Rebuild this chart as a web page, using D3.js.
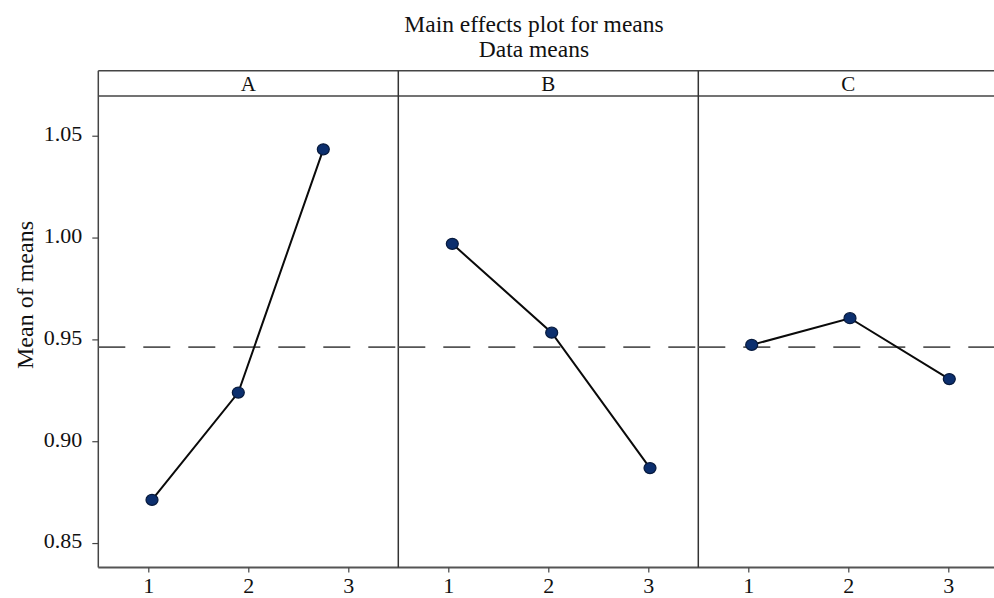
<!DOCTYPE html>
<html>
<head>
<meta charset="utf-8">
<script src="https://cdn.jsdelivr.net/npm/d3@7"></script>
<style>
  html, body { margin: 0; padding: 0; background: #fff; }
  svg { display: block; }
  text { font-family: "Liberation Serif", "Times New Roman", serif; fill: #111; }
</style>
</head>
<body>
<svg id="chart" width="994" height="598"></svg>
<script>
// ---- data ----
const titleText = "Main effects plot for means";
const subtitleText = "Data means";
const yLabelText = "Mean of means";
const factors = ["A", "B", "C"];
const levels = [1, 2, 3];
const levelLabels = ["1", "2", "3"];
const meansA = [0.8712, 0.9239, 1.0433];
const meansB = [0.9969, 0.9533, 0.8868];
const meansC = [0.9473, 0.9604, 0.9305];
// horizontal positions of the plotted level points as they appear in the picture
const posA = [1.037, 1.90, 2.75];
const posB = [1.040, 2.034, 3.017];
const posC = [1.034, 2.017, 3.010];
const grandMean = 0.9462;
const yTicks = [0.85, 0.90, 0.95, 1.00, 1.05];

const seriesMeans = [meansA, meansB, meansC];
const seriesPos = [posA, posB, posC];

// ---- layout ----
const svg = d3.select("#chart");
const plotLeft = 98.3, panelW = 300, plotTop = 96, headerTop = 70.7, plotBottom = 567.5;
const plotRight = plotLeft + panelW * factors.length;

const y = d3.scaleLinear().domain([0.838, 1.0695]).range([plotBottom, plotTop]);

// titles
svg.append("text").attr("x", 534).attr("y", 31.5).attr("text-anchor", "middle")
  .style("font-size", "23.5px").text(titleText);
svg.append("text").attr("x", 534).attr("y", 57).attr("text-anchor", "middle")
  .style("font-size", "23.5px").text(subtitleText);

// y label
svg.append("text")
  .attr("transform", `translate(33,295) rotate(-90)`)
  .attr("text-anchor", "middle")
  .style("font-size", "24px")
  .text(yLabelText);

// y axis
const yAxis = svg.append("g").attr("transform", `translate(${plotLeft},0)`)
  .call(d3.axisLeft(y).tickValues(yTicks).tickFormat(d3.format(".2f")).tickSize(6).tickPadding(10).tickSizeOuter(0));
yAxis.select(".domain").remove();
yAxis.selectAll(".tick line").attr("stroke", "#444").attr("stroke-width", 1.2);
yAxis.selectAll(".tick text").style("font-size", "22px").style("font-family", "'Liberation Serif', 'Times New Roman', serif").attr("fill", "#111").attr("dy", "0.22em");

// header strip
svg.append("line").attr("x1", plotLeft).attr("x2", plotRight).attr("y1", headerTop).attr("y2", headerTop)
  .attr("stroke", "#444").attr("stroke-width", 1.5);
svg.append("line").attr("x1", plotLeft).attr("x2", plotRight).attr("y1", plotTop).attr("y2", plotTop)
  .attr("stroke", "#444").attr("stroke-width", 1.5);
// left border
svg.append("line").attr("x1", plotLeft).attr("x2", plotLeft).attr("y1", headerTop).attr("y2", plotBottom)
  .attr("stroke", "#444").attr("stroke-width", 1.5);
// bottom axis line
svg.append("line").attr("x1", plotLeft).attr("x2", plotRight).attr("y1", plotBottom).attr("y2", plotBottom)
  .attr("stroke", "#555").attr("stroke-width", 1.8);

factors.forEach((f, i) => {
  const x0 = plotLeft + i * panelW;
  const x = d3.scaleLinear().domain([0.5, 3.5]).range([x0, x0 + panelW]);
  const g = svg.append("g");

  // divider
  if (i > 0) {
    g.append("line").attr("x1", x0).attr("x2", x0).attr("y1", headerTop).attr("y2", plotBottom)
      .attr("stroke", "#333").attr("stroke-width", 1.5);
  }
  // header label
  g.append("text").attr("x", x0 + panelW / 2).attr("y", 91).attr("text-anchor", "middle")
    .style("font-size", "21px").text(f);

  // reference line (grand mean)
  g.append("line").attr("x1", x0).attr("x2", x0 + panelW)
    .attr("y1", y(grandMean)).attr("y2", y(grandMean))
    .attr("stroke", "#555").attr("stroke-width", 1.8).attr("stroke-dasharray", "27,18");

  // x axis
  const xa = g.append("g").attr("transform", `translate(0,${plotBottom})`)
    .call(d3.axisBottom(x).tickValues(levels).tickFormat((d, k) => levelLabels[k]).tickSize(5).tickPadding(5).tickSizeOuter(0));
  xa.select(".domain").remove();
  xa.selectAll(".tick line").attr("stroke", "#444").attr("stroke-width", 1.2);
  xa.selectAll(".tick text").style("font-size", "22px").style("font-family", "'Liberation Serif', 'Times New Roman', serif").attr("fill", "#111");

  const pts = seriesMeans[i].map((v, k) => ({ x: seriesPos[i][k], y: v }));
  g.append("path").datum(pts)
    .attr("d", d3.line().x(d => x(d.x)).y(d => y(d.y)))
    .attr("fill", "none").attr("stroke", "#0a0a0a").attr("stroke-width", 2);
  g.selectAll("ellipse").data(pts).join("ellipse")
    .attr("cx", d => x(d.x)).attr("cy", d => y(d.y))
    .attr("rx", 6).attr("ry", 5.5)
    .attr("fill", "#0c2f6e").attr("stroke", "#071a3d").attr("stroke-width", 1.2);
});
</script>
</body>
</html>
